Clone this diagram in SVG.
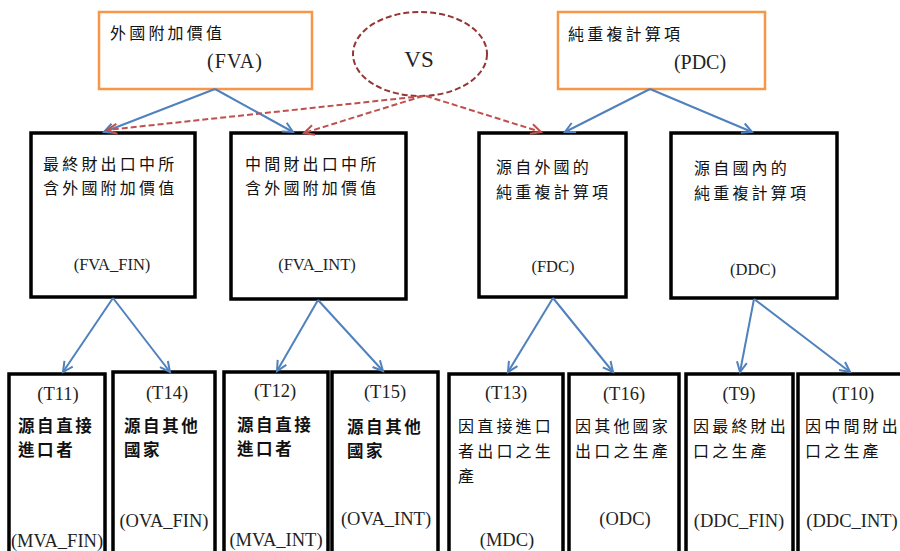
<svg xmlns="http://www.w3.org/2000/svg" width="900" height="551" viewBox="0 0 900 551">
<style>
.top{fill:#fff;stroke:#F79646;stroke-width:2.5}
.box{fill:#fff;stroke:#000;stroke-width:3.5}
.cjk{font-family:"Noto Sans CJK TC","Noto Sans CJK SC",sans-serif;font-size:16px;letter-spacing:3.2px;fill:#111}
.cjkb{font-family:"Noto Sans CJK TC","Noto Sans CJK SC",sans-serif;font-size:16.5px;letter-spacing:2.6px;font-weight:600;fill:#111}
.ser{font-family:"Liberation Serif",serif;fill:#222;text-anchor:middle}
.s20{font-size:20px}
.s16{font-size:16.5px}
.s18{font-size:18.5px}
.blue{stroke:#4F81BD;stroke-width:2;fill:none;marker-end:url(#ab)}
.red{stroke:#C0504D;stroke-width:2;fill:none;stroke-dasharray:6 3;marker-end:url(#ar)}
</style>
<defs>
<marker id="ab" markerUnits="userSpaceOnUse" markerWidth="14" markerHeight="14" refX="10" refY="5" orient="auto" overflow="visible"><path d="M0,0 L10,5 L0,10" fill="none" stroke="#4F81BD" stroke-width="2"/></marker>
<marker id="ar" markerUnits="userSpaceOnUse" markerWidth="14" markerHeight="14" refX="10" refY="5" orient="auto" overflow="visible"><path d="M0,0 L10,5 L0,10" fill="none" stroke="#C0504D" stroke-width="2"/></marker>
</defs>
<rect width="900" height="551" fill="#fff"/>
<g id="FVA"><rect class="top" x="99" y="12" width="213" height="77"/><text class="cjk" x="110" y="39">外國附加價值</text><text class="ser s20" x="235" y="68" letter-spacing="1">(FVA)</text></g>
<g id="VS"><ellipse cx="420" cy="54" rx="67" ry="42" fill="none" stroke="#943634" stroke-width="2" stroke-dasharray="6 3"/><text class="ser" x="419" y="67" font-size="23">VS</text></g>
<g id="PDC"><rect class="top" x="558" y="12" width="207" height="77"/><text class="cjk" x="568" y="40">純重複計算項</text><text class="ser s20" x="700" y="69">(PDC)</text></g>
<g id="FVA_FIN"><rect class="box" x="31" y="133" width="164" height="164"/><text class="cjk"><tspan x="43" y="170">最終財出口中所</tspan><tspan x="43" y="194">含外國附加價值</tspan></text><text class="ser s16" x="112" y="270">(FVA_FIN)</text></g>
<g id="FVA_INT"><rect class="box" x="231" y="133" width="175" height="166"/><text class="cjk"><tspan x="245" y="170">中間財出口中所</tspan><tspan x="245" y="194">含外國附加價值</tspan></text><text class="ser s16" x="317" y="270">(FVA_INT)</text></g>
<g id="FDC"><rect class="box" x="479" y="133" width="147" height="164"/><text class="cjk"><tspan x="496" y="173">源自外國的</tspan><tspan x="496" y="198">純重複計算項</tspan></text><text class="ser s16" x="553" y="272">(FDC)</text></g>
<g id="DDC"><rect class="box" x="671" y="133" width="166" height="165"/><text class="cjk"><tspan x="694" y="174">源自國內的</tspan><tspan x="694" y="199">純重複計算項</tspan></text><text class="ser s16" x="753" y="275">(DDC)</text></g>
<g id="T11"><rect class="box" x="9" y="374" width="96" height="190"/><text class="ser s18" x="58" y="400">(T11)</text><text class="cjkb"><tspan x="18" y="432">源自直接</tspan><tspan x="18" y="456">進口者</tspan></text><text class="ser s18" x="57" y="547">(MVA_FIN)</text></g>
<g id="T14"><rect class="box" x="113" y="372" width="102" height="190"/><text class="ser s18" x="167" y="399">(T14)</text><text class="cjkb"><tspan x="124" y="432">源自其他</tspan><tspan x="124" y="456">國家</tspan></text><text class="ser s18" x="164" y="527">(OVA_FIN)</text></g>
<g id="T12"><rect class="box" x="224" y="372" width="104" height="190"/><text class="ser s18" x="275" y="397">(T12)</text><text class="cjkb"><tspan x="237" y="431">源自直接</tspan><tspan x="237" y="455">進口者</tspan></text><text class="ser s18" x="276" y="546">(MVA_INT)</text></g>
<g id="T15"><rect class="box" x="332" y="372" width="106" height="190"/><text class="ser s18" x="385" y="398">(T15)</text><text class="cjkb"><tspan x="347" y="433">源自其他</tspan><tspan x="347" y="457">國家</tspan></text><text class="ser s18" x="386" y="525">(OVA_INT)</text></g>
<g id="T13"><rect class="box" x="449" y="374" width="114" height="190"/><text class="ser s18" x="506" y="399">(T13)</text><text class="cjk"><tspan x="458" y="432">因直接進口</tspan><tspan x="458" y="457">者出口之生</tspan><tspan x="458" y="482">產</tspan></text><text class="ser s18" x="507" y="546">(MDC)</text></g>
<g id="T16"><rect class="box" x="569" y="374" width="110" height="190"/><text class="ser s18" x="624" y="400">(T16)</text><text class="cjk"><tspan x="575" y="432">因其他國家</tspan><tspan x="575" y="457">出口之生產</tspan></text><text class="ser s18" x="625" y="525">(ODC)</text></g>
<g id="T9"><rect class="box" x="686" y="374" width="107" height="190"/><text class="ser s18" x="739" y="400">(T9)</text><text class="cjk"><tspan x="693" y="432">因最終財出</tspan><tspan x="693" y="457">口之生產</tspan></text><text class="ser s18" x="739" y="527">(DDC_FIN)</text></g>
<g id="T10"><rect class="box" x="798" y="374" width="110" height="190"/><text class="ser s18" x="853" y="400">(T10)</text><text class="cjk"><tspan x="805" y="432">因中間財出</tspan><tspan x="805" y="457">口之生產</tspan></text><text class="ser s18" x="852" y="527">(DDC_INT)</text></g>
<g id="connectors">
<line class="blue" x1="215" y1="89" x2="104" y2="132"/>
<line class="blue" x1="215" y1="89" x2="293" y2="132"/>
<line class="blue" x1="650" y1="89" x2="565" y2="132"/>
<line class="blue" x1="650" y1="89" x2="752" y2="132"/>
<line class="blue" x1="113" y1="298" x2="63" y2="372"/>
<line class="blue" x1="113" y1="298" x2="170" y2="372"/>
<line class="blue" x1="318" y1="300" x2="277" y2="371"/>
<line class="blue" x1="318" y1="300" x2="383" y2="371"/>
<line class="blue" x1="553" y1="298" x2="508" y2="372"/>
<line class="blue" x1="553" y1="298" x2="613" y2="372"/>
<line class="blue" x1="754" y1="299" x2="740" y2="372"/>
<line class="blue" x1="754" y1="299" x2="850" y2="372"/>
<line class="red" x1="423" y1="96" x2="107" y2="130"/>
<line class="red" x1="423" y1="96" x2="304" y2="133"/>
<line class="red" x1="426" y1="96" x2="541" y2="132"/>
</g>
</svg>
